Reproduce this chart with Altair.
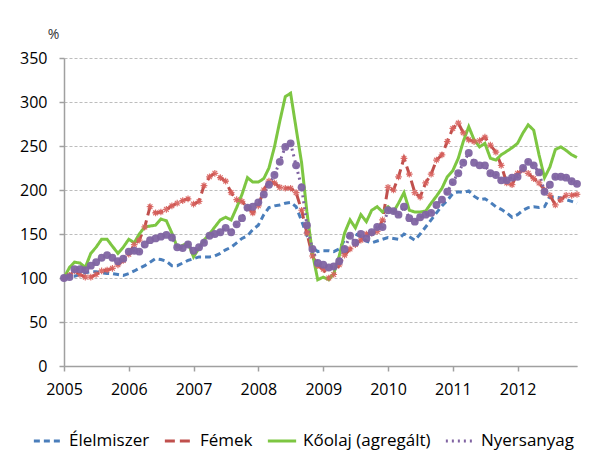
import altair as alt
import pandas as pd

months = [f"{y}/{m:02d}/01" for y in range(2005, 2013) for m in range(1, 13)]

series_names = ["Élelmiszer", "Fémek", "Kőolaj (agregált)", "Nyersanyag"]
series_colors = ["#4A7EBB", "#C0504D", "#7DC642", "#8064A2"]

elelmiszer = [
    100, 101, 102, 104, 106, 107, 107, 106, 105, 105, 104, 103,
    105, 108, 111, 114, 118, 122, 121, 119, 114, 114, 117, 120,
    122, 124, 124, 124, 125, 128, 132, 135, 140, 145, 148, 155,
    160, 172, 180, 182, 183, 185, 186, 181, 165, 148, 135, 130,
    131, 131, 130, 133, 143, 149, 150, 147, 142, 140, 142, 144,
    146, 145, 144, 150, 147, 143, 150, 158, 166, 174, 182, 188,
    196, 198, 197, 199, 193, 189, 190, 186, 181, 178, 174, 169,
    172, 177, 180, 181, 180, 181, 192, 192, 191, 189, 187, 185,
]
femek = [
    100, 103, 108, 104, 101, 101, 104, 108, 109, 111, 115, 120,
    127, 138, 143, 158, 181, 174, 175, 178, 182, 185, 188, 190,
    184, 187, 205, 215, 219, 214, 210, 197, 189, 187, 180, 174,
    182, 200, 210, 208, 203, 202, 202, 197, 177, 151, 125, 114,
    110, 100, 104, 115, 126, 133, 138, 143, 150, 151, 153, 166,
    203, 200, 215, 236, 218, 197, 192, 208, 218, 234, 240, 255,
    270, 276, 265, 257, 255, 256, 260, 251, 243, 228, 208, 206,
    219, 223, 219, 213, 208, 200, 194, 183, 189, 194, 194, 195,
]
koolaj = [
    100, 112, 118, 117, 112, 128, 135, 144, 144, 136, 128, 135,
    144, 140, 150, 158, 159, 160, 167, 165, 151, 135, 137, 140,
    124, 134, 143, 150, 158, 166, 169, 166, 180, 195, 214, 209,
    209, 213, 225, 249, 278, 306, 310, 270, 231, 175, 128, 98,
    101, 98, 105, 125, 151, 166, 157, 172, 164, 177, 181, 175,
    181, 175, 185, 197, 177, 175, 175, 176, 185, 193, 202, 215,
    222, 236, 255, 272, 257, 249, 253, 236, 234, 240, 244, 248,
    253, 265, 274, 268, 240, 214, 226, 246, 249, 245, 240, 237,
]
nyersanyag = [
    100, 101, 110, 110, 109, 114, 118, 123, 126, 123, 119, 122,
    130, 131, 130, 138, 143, 145, 147, 149, 146, 135, 134, 138,
    131, 135, 140, 148, 150, 152, 157, 152, 161, 168, 180, 181,
    186, 195, 206, 217, 232, 249, 253, 228, 203, 160, 133, 117,
    115, 112, 113, 119, 133, 148, 140, 150, 145, 152, 158, 158,
    177, 176, 172, 181, 168, 164, 169, 172, 174, 183, 189, 198,
    209, 219, 231, 242, 231, 228, 228, 219, 217, 211, 211, 214,
    215, 225, 232, 228, 220, 198, 206, 215, 215, 214, 210, 207,
]

year_ticks = [alt.DateTime(year=y, month=1, date=1) for y in range(2005, 2013)]
y_ticks = [0, 50, 100, 150, 200, 250, 300, 350]

rows = []
for name, vals in zip(series_names, [elelmiszer, femek, koolaj, nyersanyag]):
    for d, v in zip(months, vals):
        rows.append({"date": d, "value": v, "series": name})
df = pd.DataFrame(rows)

x_enc = alt.X(
    "date:T",
    scale=alt.Scale(domain=[alt.DateTime(year=2005, month=1, date=1),
                            alt.DateTime(year=2012, month=12, date=1)]),
    axis=alt.Axis(values=year_ticks, format="%Y", title=None, grid=False,
                  labelFontSize=16, labelPadding=10, tickSize=5,
                  labelColor="#000000", domainColor="#A0A0A0", tickColor="#A0A0A0",
                  domainWidth=1.5, tickWidth=1.5, labelFlush=False),
)
y_enc = alt.Y(
    "value:Q",
    scale=alt.Scale(domain=[0, 350], nice=False, zero=True),
    axis=alt.Axis(values=y_ticks, title="%", titleAngle=0, titleX=-11, titleY=-24,
                  titleAlign="center", titleBaseline="middle", titleFontSize=14,
                  titleFontWeight="normal", titleColor="#333333",
                  labelFontSize=16, labelPadding=12, tickSize=5, labelColor="#000000",
                  grid=True, gridDash=[3, 2], gridColor="#BDBDBD", gridWidth=1,
                  domainColor="#A0A0A0", tickColor="#A0A0A0", domainWidth=1.5, tickWidth=1.5),
)

leg = alt.Legend(orient="none", legendX=-32, legendY=367, direction="horizontal",
                 title=None, labelFontSize=17, labelColor="#000000",
                 symbolType="stroke", symbolSize=800, symbolStrokeWidth=3,
                 labelOffset=5, columnPadding=8)

lines = alt.Chart(df).mark_line(strokeWidth=3).encode(
    x=x_enc,
    y=y_enc,
    color=alt.Color("series:N", scale=alt.Scale(domain=series_names, range=series_colors),
                    legend=leg),
    strokeDash=alt.StrokeDash("series:N",
                              scale=alt.Scale(domain=series_names,
                                              range=[[6, 4], [10, 5], [1, 0], [2, 4]]),
                              legend=leg),
    order=alt.Order("date:T"),
)

asterisk = "M-1,0L1,0M0,-1L0,1M-0.7,-0.7L0.7,0.7M-0.7,0.7L0.7,-0.7"
red_pts = alt.Chart(df[df["series"] == "Fémek"]).mark_point(
    shape=asterisk, filled=False, size=45, strokeWidth=1.2, color="#D9625E", opacity=0.9
).encode(x="date:T", y="value:Q")

purple_pts = alt.Chart(df[df["series"] == "Nyersanyag"]).mark_circle(
    size=62, color="#8064A2", opacity=0.95
).encode(x="date:T", y="value:Q")

chart = alt.layer(lines, red_pts, purple_pts).properties(
    width=513, height=308,
    autosize=alt.AutoSizeParams(type="none"),
    padding={"left": 56, "top": 50, "right": 19, "bottom": 92},
).configure(
    font="Open Sans",
).configure_view(stroke=None).configure_axis(
    labelFont="Open Sans", titleFont="Open Sans"
).configure_legend(labelFont="Open Sans")

chart.save("out.html", embed_options={"renderer": "svg", "actions": False})
